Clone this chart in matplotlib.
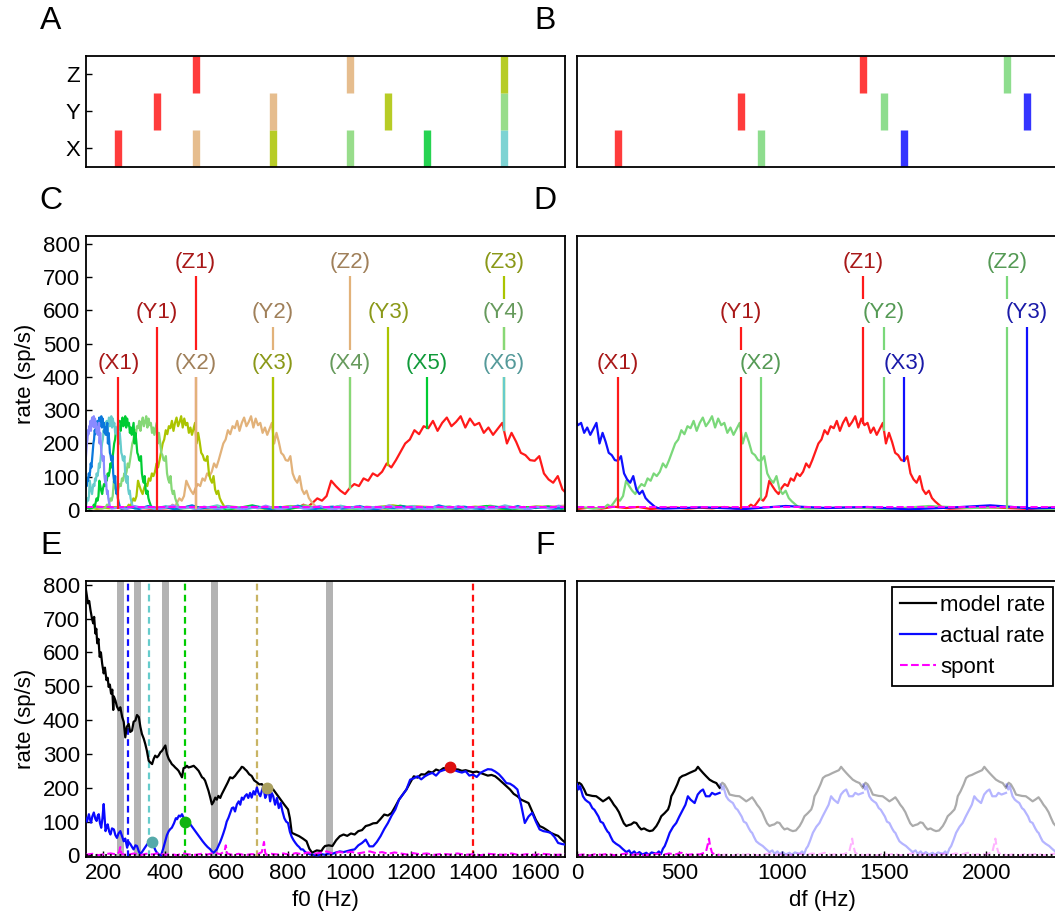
import numpy as np
import matplotlib
matplotlib.use('Agg')
import matplotlib.pyplot as plt

plt.rcParams['font.family'] = ['Liberation Sans', 'DejaVu Sans']
plt.rcParams['axes.linewidth'] = 1.3
FS = 16
W, H = 1055, 919

# ---------------- data ----------------
# A: components (Hz) of harmonic tones X (f0=250), Y (f0=375), Z (f0=500)
A_X = [250, 500, 750, 1000, 1250, 1500]
A_Y = [375, 750, 1125, 1500]
A_Z = [500, 1000, 1500]
# B: components (Hz) of frequency-shifted tones (spacing 700 Hz)
B_X = [200, 900, 1600]
B_Y = [800, 1500, 2200]
B_Z = [1400, 2100]
B_shift = 700

# neuron response rate (sp/s) vs. tone frequency (Hz)
T_freq_low = [0, 60, 120, 180, 240, 300, 360, 420, 480, 540, 600, 660, 720, 780]
T_rate_low = [3, 7, 4, 10, 6, 9, 3, 6, 8, 4, 7, 5, 9, 4]
T_rate_peak = [8, 16, 10, 22, 35, 28, 42, 88, 72, 58,
               48, 66, 78, 72, 95, 88, 110, 102, 115, 140,
               128, 150, 175, 200, 212, 240, 228, 252, 246, 268,
               238, 262, 278, 252, 265, 282, 248, 275, 255, 262,
               232, 248, 226,
               244, 262, 200, 232, 205, 172, 165, 150, 148, 162,
               110, 92, 82, 102, 62, 48, 58, 36, 26, 18, 10, 6]
T_rate_high = [4, 8, 3, 12, 6, 9, 2, 7, 14, 5, 8, 3, 10, 6, 4, 11, 7, 2, 9, 5,
               13, 6, 3, 8, 10, 4, 7, 12, 5, 2, 9, 6, 11, 3, 8, 5, 14, 7, 4, 9,
               6, 2, 10, 8, 5, 12, 3, 7, 9, 4, 6, 11, 5, 8, 2, 10, 7, 4, 13, 6,
               3, 9]
T_freq_peak = 835 + 15 * np.arange(len(T_rate_peak))
T_freq_high = 1820 + 200 * np.arange(len(T_rate_high))
T_freq = np.concatenate([T_freq_low, T_freq_peak, T_freq_high])
T_rate = np.concatenate([T_rate_low, T_rate_peak, T_rate_high])
C_harmonics = [1, 2, 3, 4, 5, 6, 7, 8]
spont_level = 8

# E: rate vs f0
E_model_f0 = [143, 147, 151, 155, 159, 164, 168, 171, 175, 178, 181, 185, 189, 193, 197, 202, 206, 211, 215, 218,
              222, 226, 230, 233, 235, 240, 245, 251, 256, 262, 267, 272, 277, 283, 288, 294, 299, 305, 310, 316,
              321, 326, 332, 337, 342, 348, 353, 359, 364, 369, 375, 380, 386, 391, 397, 402, 407, 413, 418, 423,
              429, 434, 440, 445, 451, 456, 461, 467, 472, 477, 485, 494, 502, 510, 516, 521, 526, 531, 537, 542,
              548, 553, 558, 564, 569, 574, 580, 585, 590, 596, 604, 612, 620, 628, 636, 645, 650, 655, 660, 666,
              674, 682, 690, 699, 707, 715, 723, 731, 740, 752, 764, 776, 788, 800, 806, 812, 824, 836, 848, 860,
              869, 878, 893, 908, 914, 920, 932, 944, 956, 968, 980, 992, 1004, 1016, 1028, 1040, 1052, 1064, 1076, 1088,
              1100, 1112, 1124, 1136, 1148, 1160, 1172, 1184, 1196, 1208, 1220, 1232, 1244, 1256, 1268, 1280, 1292, 1304, 1316, 1328,
              1340, 1352, 1364, 1376, 1388, 1400, 1412, 1424, 1436, 1448, 1460, 1472, 1484, 1496, 1508, 1520, 1532, 1544, 1556, 1568,
              1580, 1592, 1604, 1616, 1628, 1640, 1652, 1664, 1676, 1688, 1700]
E_model_rate = [795, 770, 745, 752, 726, 700, 686, 705, 656, 670, 627, 640, 587, 600, 567, 538, 555, 518, 525, 498,
                505, 478, 490, 430, 470, 458, 440, 429, 438, 409, 395, 349, 380, 389, 365, 369, 395, 399, 415, 409,
                380, 359, 345, 329, 310, 280, 275, 270, 285, 295, 290, 295, 305, 309, 318, 325, 300, 285, 278, 270,
                265, 260, 255, 250, 240, 231, 258, 260, 265, 260, 262, 265, 258, 250, 240, 231, 228, 221, 205, 191,
                170, 151, 158, 171, 165, 176, 170, 181, 190, 201, 215, 231, 228, 235, 245, 255, 262, 260, 255, 250,
                240, 235, 222, 216, 210, 211, 200, 201, 198, 195, 180, 165, 150, 136, 110, 67, 62, 57, 50, 42,
                20, 8, 15, 13, 22, 28, 30, 28, 45, 57, 62, 58, 65, 62, 72, 75, 87, 90, 95, 96,
                108, 121, 118, 126, 145, 165, 180, 195, 215, 234, 230, 240, 239, 248, 245, 254, 250, 258, 257, 262,
                255, 254, 250, 252, 249, 246, 248, 244, 240, 236, 238, 234, 225, 215, 205, 195, 182, 175, 165, 160,
                155, 130, 105, 87, 82, 75, 67, 62, 58, 47, 37]
E_actual_f0 = [143, 148, 154, 158, 161, 165, 170, 175, 179, 183, 186, 190, 194, 198, 202, 205, 208, 212, 215, 220,
               224, 229, 235, 240, 245, 250, 256, 261, 267, 272, 278, 283, 289, 294, 299, 305, 310, 316, 321, 326,
               332, 337, 343, 348, 353, 359, 364, 370, 375, 381, 388, 395, 402, 407, 413, 418, 423, 430, 436, 440,
               446, 451, 456, 462, 469, 476, 483, 491, 499, 507, 515, 523, 531, 539, 548, 553, 558, 563, 569, 575,
               580, 585, 590, 596, 601, 607, 612, 618, 623, 628, 634, 640, 645, 650, 655, 660, 666, 671, 677, 682,
               688, 693, 699, 704, 710, 715, 720, 726, 731, 736, 742, 747, 752, 758, 764, 770, 776, 782, 788, 794,
               800, 806, 812, 818, 824, 830, 836, 842, 848, 856, 864, 872, 884, 896, 908, 920, 932, 944, 956, 968,
               980, 992, 1004, 1016, 1028, 1040, 1052, 1064, 1076, 1088, 1100, 1112, 1124, 1136, 1148, 1160, 1172, 1184, 1196, 1208,
               1220, 1232, 1244, 1256, 1268, 1280, 1292, 1304, 1316, 1325, 1340, 1352, 1364, 1376, 1388, 1400, 1412, 1424, 1436, 1448,
               1460, 1472, 1484, 1496, 1508, 1520, 1532, 1544, 1556, 1568, 1580, 1592, 1604, 1616, 1628, 1640, 1652, 1664, 1676, 1688,
               1700]
E_actual_rate = [112, 100, 122, 105, 97, 115, 127, 108, 102, 118, 122, 95, 82, 110, 152, 110, 72, 85, 92, 70,
                 62, 80, 77, 60, 52, 65, 72, 58, 42, 50, 23, 40, 33, 25, 18, 30, 28, 12, 3, 10,
                 18, 25, 33, 38, 43, 38, 28, 15, 8, 3, 0, 20, 43, 60, 72, 78, 82, 95, 110, 107,
                 118, 115, 122, 110, 102, 98, 92, 82, 72, 62, 52, 42, 33, 25, 18, 12, 8, 12, 18, 30,
                 40, 52, 65, 82, 100, 112, 125, 140, 142, 130, 151, 160, 150, 171, 165, 175, 181, 170, 185, 171,
                 190, 180, 201, 185, 175, 191, 205, 170, 181, 200, 160, 185, 175, 150, 170, 140, 155, 130, 110, 100,
                 96, 70, 55, 45, 37, 30, 25, 18, 18, 10, 6, 3, 2, 0, 4, 2, 6, 5, 9, 12,
                 10, 13, 16, 18, 30, 37, 47, 27, 27, 40, 57, 78, 96, 118, 136, 165, 180, 195, 224, 228,
                 234, 225, 234, 240, 244, 236, 248, 252, 255, 258, 252, 248, 245, 249, 236, 239, 232, 244, 250, 255,
                 254, 248, 240, 228, 214, 212, 205, 195, 150, 96, 115, 126, 100, 77, 72, 70, 67, 55, 37, 34,
                 32]
E_spont_f0 = [143, 165, 185, 205, 225, 245, 252, 256, 260, 280, 300, 320, 340, 360, 380, 400, 420, 440, 460, 480,
              500, 520, 540, 560, 580, 594, 598, 602, 620, 640, 660, 680, 700, 715, 722, 726, 730, 745, 765, 785,
              805, 825, 845, 865, 885, 905, 925, 945, 965, 985, 1005, 1025, 1045, 1065, 1085, 1105, 1125, 1145, 1165, 1185,
              1205, 1225, 1250, 1275, 1300, 1325, 1350, 1375, 1400, 1425, 1450, 1475, 1500, 1525, 1550, 1575, 1600, 1625, 1650, 1675,
              1700]
E_spont_rate = [2, 5, 1, 4, 6, 3, 10, 25, 4, 2, 6, 1, 5, 3, 7, 2, 4, 1, 6, 3,
                2, 5, 3, 8, 4, 12, 30, 6, 2, 5, 1, 4, 3, 10, 40, 8, 2, 5, 3, 6,
                2, 7, 4, 9, 5, 8, 12, 6, 10, 8, 11, 6, 9, 12, 7, 10, 5, 9, 6, 3,
                7, 4, 6, 2, 5, 3, 6, 2, 4, 1, 5, 3, 2, 6, 1, 4, 2, 5, 3, 2,
                4]
E_dash_f0 = [280, 350, 467, 700, 1400]
E_gray_f0 = [257, 312, 402, 562, 935]
E_mark_f0 = [359, 467, 731, 1325]
E_mark_rate = [40, 100, 200, 260]

# F: rate vs df (one period of 700 Hz)
F_model_df = [0, 10, 21, 35, 46, 60, 75, 94, 110, 127, 140, 156, 170, 180, 192, 205, 217, 229, 241, 253,
              265, 278, 290, 302, 314, 328, 342, 355, 370, 388, 400, 412, 428, 445, 453, 461, 475, 490, 502, 515,
              530, 550, 565, 580, 591, 600, 616, 630, 648, 665, 681, 697]
F_model_rate = [205, 215, 210, 195, 180, 178, 176, 175, 168, 160, 165, 172, 160, 150, 141, 128, 111, 95, 87, 90,
                92, 98, 96, 85, 77, 80, 75, 72, 74, 87, 100, 116, 125, 136, 150, 175, 190, 210, 229, 235,
                238, 244, 248, 252, 262, 255, 244, 235, 224, 218, 214, 200]
F_actual_df = [0, 8, 15, 29, 40, 50, 62, 75, 85, 94, 105, 115, 127, 140, 150, 156, 165, 176, 190, 208,
               222, 241, 255, 265, 280, 290, 305, 320, 339, 350, 365, 388, 400, 410, 420, 429, 440, 453, 470, 485,
               500, 518, 530, 542, 555, 565, 575, 590, 604, 616, 630, 648, 660, 675, 697]
F_actual_rate = [210, 195, 205, 175, 165, 160, 155, 140, 135, 126, 115, 100, 96, 80, 70, 67, 55, 42, 35, 28,
                 20, 10, 15, 5, 12, 4, 10, 3, 8, 2, 9, 5, 12, 4, 20, 28, 45, 67, 85, 96,
                 115, 136, 150, 175, 165, 160, 155, 180, 190, 195, 175, 175, 185, 180, 185]
F_spont_df = [0, 30, 60, 90, 120, 150, 180, 210, 240, 270, 300, 330, 360, 390, 420, 450, 480, 510, 540, 570,
              600, 630, 640, 645, 650, 660, 675, 697]
F_spont_rate = [1, 3, 0, 4, 2, 5, 1, 3, 6, 2, 4, 1, 3, 5, 2, 6, 3, 8, 2, 4,
                3, 10, 35, 50, 30, 8, 3, 2]
F_period = 700

# ---------------- style ----------------
harm_col = ['#ff1a1a', '#e2b27a', '#abc400', '#86d877', '#00cc33', '#66cccc', '#0a78dc', '#8a8aff']
harm_lab = ['#a81818', '#a0805a', '#8a9818', '#669a5c', '#109a3a', '#559a9a']
shift_col = ['#ff1a1a', '#7ad87a', '#1010ff']
shift_lab = ['#a81818', '#559a55', '#1a1aa8']
dash_col = ['#1010ff', '#66cccc', '#00cc00', '#c8b464', '#ff1010']
mark_col = ['#55aaaa', '#11b311', '#aaa060', '#dd1010']
levels = {'X': 441, 'Y': 593, 'Z': 744}
LW = 1.6

fig = plt.figure(figsize=(W / 100, H / 100), dpi=100)


def ax_px(x0, y0, x1, y1):
    return fig.add_axes([x0 / W, 1 - y1 / H, (x1 - x0) / W, (y1 - y0) / H])


def style(ax):
    ax.tick_params(direction='in', length=4, width=1.0, labelsize=FS)
    ax.tick_params(axis='x', pad=5)
    ax.tick_params(axis='y', pad=4)


F0LIM = (143, 1700)
DFLIM = (0, 2400)
XL, XR = 85.5, 565.5
XL2, XR2 = 577, 1068

axA = ax_px(XL, 55.7, XR, 166.7)
axB = ax_px(XL2, 55.7, XR2, 166.7)
axC = ax_px(XL, 236, XR, 511)
axD = ax_px(XL2, 236, XR2, 511)
axE = ax_px(XL, 581, XR, 856.5)
axF = ax_px(XL2, 581, XR2, 856.5)
for ax in (axA, axB, axC, axD, axE, axF):
    style(ax)

# ---- A ----
for lvl, comps in zip([1, 2, 3], [A_X, A_Y, A_Z]):
    for k, f in enumerate(comps):
        axA.plot([f, f], [lvl - 0.5, lvl + 0.5], color=harm_col[k], lw=5.3, alpha=0.85,
                 solid_capstyle='butt')
axA.set_xlim(*F0LIM)
axA.set_ylim(0.5, 3.5)
axA.set_xticks([])
axA.set_yticks([1, 2, 3])
axA.set_yticklabels(['X', 'Y', 'Z'])

# ---- B ----
for lvl, comps in zip([1, 2, 3], [B_X, B_Y, B_Z]):
    for k, f in enumerate(comps):
        axB.plot([f, f], [lvl - 0.5, lvl + 0.5], color=shift_col[k], lw=5.3, alpha=0.85,
                 solid_capstyle='butt')
axB.set_xlim(*DFLIM)
axB.set_ylim(0.5, 3.5)
axB.set_xticks([])
axB.set_yticks([])

# ---- C ----
for n in C_harmonics:
    axC.plot(T_freq / n, T_rate, color=harm_col[n - 1], lw=LW)
axC.axhline(spont_level, color='#ff00ff', ls='--', lw=1.4)
for row, comps in (('Z', A_Z), ('Y', A_Y), ('X', A_X)):
    for k, f in enumerate(comps):
        bottom = np.interp(f, T_freq, T_rate)
        axC.plot([f, f], [bottom, levels[row]], color=harm_col[k], lw=1.6, zorder=3)
for row, comps in (('Z', A_Z), ('Y', A_Y), ('X', A_X)):
    for k, f in enumerate(comps):
        axC.text(f, levels[row], f'({row}{k + 1})', color=harm_lab[k], fontsize=FS,
                 ha='center', va='center', zorder=6,
                 bbox=dict(boxstyle='square,pad=0.15', fc='white', ec='none'))
axC.set_xlim(*F0LIM)
axC.set_ylim(-3, 824)
axC.set_xticks([])
axC.set_yticks(range(0, 801, 100))
axC.set_ylabel('rate (sp/s)', fontsize=FS, labelpad=5)

# ---- D ----
for k in range(3):
    axD.plot(T_freq - k * B_shift, T_rate, color=shift_col[k], lw=LW)
axD.axhline(spont_level, color='#ff00ff', ls='--', lw=1.4)
for row, comps in (('Z', B_Z), ('Y', B_Y), ('X', B_X)):
    for k, f in enumerate(comps):
        bottom = np.interp(f, T_freq, T_rate)
        axD.plot([f, f], [bottom, levels[row]], color=shift_col[k], lw=1.6, zorder=3)
for row, comps in (('Z', B_Z), ('Y', B_Y), ('X', B_X)):
    for k, f in enumerate(comps):
        axD.text(f, levels[row], f'({row}{k + 1})', color=shift_lab[k], fontsize=FS,
                 ha='center', va='center', zorder=6,
                 bbox=dict(boxstyle='square,pad=0.15', fc='white', ec='none'))
axD.set_xlim(*DFLIM)
axD.set_ylim(-3, 824)
axD.set_xticks([])
axD.set_yticks([])

# ---- E ----
for f in E_gray_f0:
    axE.axvspan(f - 11, f + 11, color='#b3b3b3', lw=0, zorder=0)
for f, c in zip(E_dash_f0, dash_col):
    axE.axvline(f, color=c, ls=(0, (3, 2)), lw=1.6, zorder=1)
axE.plot(E_model_f0, E_model_rate, color='black', lw=LW, zorder=3)
axE.plot(E_actual_f0, E_actual_rate, color='#0a0aff', lw=LW, zorder=3)
axE.plot(E_spont_f0, E_spont_rate, color='#ff00ff', ls='--', lw=1.5, zorder=3)
axE.axhline(0, color='black', ls=':', lw=1.3, zorder=4)
for f, r, c in zip(E_mark_f0, E_mark_rate, mark_col):
    axE.plot(f, r, 'o', color=c, ms=7.5, zorder=5)
axE.set_xlim(*F0LIM)
axE.set_ylim(-3, 811)
axE.set_xticks(range(200, 1601, 200))
axE.set_yticks(range(0, 801, 100))
axE.set_xlabel('f0 (Hz)', fontsize=FS, labelpad=4)
axE.set_ylabel('rate (sp/s)', fontsize=FS, labelpad=5)

# ---- F ----
F_model_df = np.array(F_model_df)
F_actual_df = np.array(F_actual_df)
F_spont_df = np.array(F_spont_df)
hm, = axF.plot(F_model_df, F_model_rate, color='black', lw=LW, zorder=3)
ha, = axF.plot(F_actual_df, F_actual_rate, color='#0a0aff', lw=LW, zorder=3)
hs, = axF.plot(F_spont_df, F_spont_rate, color='#ff00ff', ls='--', lw=1.5, zorder=3)
for p in (1, 2, 3):
    axF.plot(F_model_df + p * F_period, F_model_rate, color='black', alpha=0.33, lw=LW, zorder=2)
    axF.plot(F_actual_df + p * F_period, F_actual_rate, color='#0a0aff', alpha=0.3, lw=LW, zorder=2)
    axF.plot(F_spont_df + p * F_period, F_spont_rate, color='#ff00ff', alpha=0.3, ls='--', lw=1.5, zorder=2)
axF.axhline(0, color='black', ls=':', lw=1.3, zorder=4)
axF.set_xlim(*DFLIM)
axF.set_ylim(-3, 811)
axF.set_xticks(range(0, 2401, 500))
axF.set_yticks([])
axF.set_xlabel('df (Hz)', fontsize=FS, labelpad=4)
leg = axF.legend([hm, ha, hs], ['model rate', 'actual rate', 'spont'], fontsize=FS,
                 loc='upper right', bbox_to_anchor=(1053 / W, 1 - 587 / H),
                 bbox_transform=fig.transFigure, fancybox=False, framealpha=1,
                 edgecolor='black', handlelength=1.6, handletextpad=0.2,
                 labelspacing=0.45, borderpad=0.35, borderaxespad=0)
leg.get_frame().set_linewidth(1.3)

# panel letters
for lab, x, y in (('A', 51, 21), ('B', 545, 21), ('C', 51, 201), ('D', 545, 201),
                  ('E', 51, 546), ('F', 545, 546)):
    fig.text(x / W, 1 - y / H, lab, fontsize=23, ha='center', va='center',
             family=['Liberation Sans Narrow', 'Liberation Sans', 'DejaVu Sans'])

fig.savefig('out.png', dpi=100)
